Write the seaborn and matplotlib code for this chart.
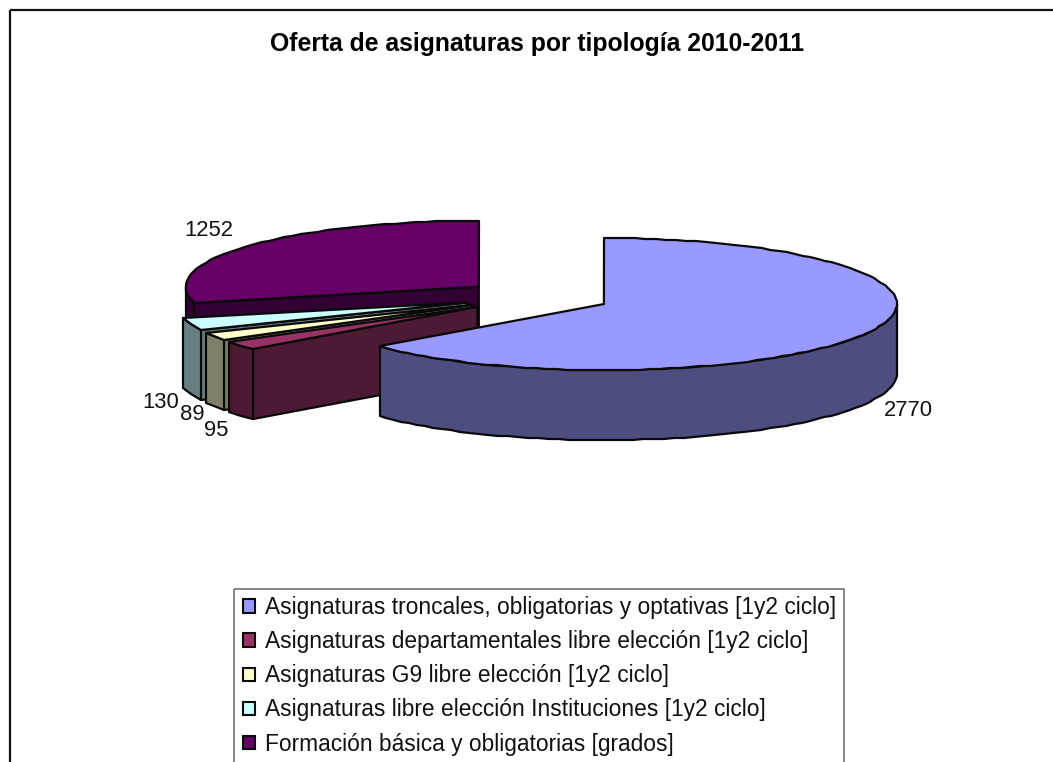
import numpy as np
import matplotlib
matplotlib.use("Agg")
import matplotlib.pyplot as plt
from matplotlib.patches import Patch, Rectangle
import seaborn as sns

# datos del grafico
tipologias = [
    "Asignaturas troncales, obligatorias y optativas [1y2 ciclo]",
    "Asignaturas departamentales libre elección [1y2 ciclo]",
    "Asignaturas G9 libre elección [1y2 ciclo]",
    "Asignaturas libre elección Instituciones [1y2 ciclo]",
    "Formación básica y obligatorias [grados]",
]
valores = [2770, 95, 89, 130, 1252]
colores = ["#9999FF", "#993366", "#FFFFCC", "#CCFFFF", "#660066"]
titulo = "Oferta de asignaturas por tipología 2010-2011"

# geometria del pastel en pixeles
CX, CY = 537, 297
RX, RY = 293, 66
ALTO = 70
EXPLOTA = 0.252
LINEA = "#0a0a0a"
# desplazamiento de cada etiqueta respecto al borde de su sector
OFFSETS = [(39.5, 78), (-25, 84), (-22, 78), (-30, 78), (-39, -15)]

sns.set_theme(style="white")
plt.rcParams["font.family"] = ["Liberation Sans", "DejaVu Sans"]
paleta = sns.color_palette(colores)

fig = plt.figure(figsize=(10.53, 7.62), dpi=100)
ax = fig.add_axes([0, 0, 1, 1])
ax.set_xlim(0, 1053)
ax.set_ylim(762, 0)
ax.axis("off")


def borde(cx, cy, grados):
    t = np.radians(grados)
    # redondeo a pixel para el borde quebrado del original
    return np.round(cx + RX * np.sin(t)), np.round(cy - RY * np.cos(t))


def cara(xs, ys, color, z):
    ax.fill(xs, ys, facecolor=color, edgecolor=LINEA, linewidth=1.6, joinstyle="round", zorder=z)


angulos = np.concatenate([[0], np.cumsum(valores) / np.sum(valores) * 360])
# de atras hacia delante: formacion, instituciones, G9, departamentales, troncales
orden = [4, 3, 2, 1, 0]
for z, i in enumerate(orden):
    a0, a1 = angulos[i], angulos[i + 1]
    medio = (a0 + a1) / 2
    t = np.radians(medio)
    cx = CX + EXPLOTA * RX * np.sin(t)
    cy = CY - EXPLOTA * RY * np.cos(t)
    oscuro = tuple(c * 0.5 for c in paleta[i])

    # cara de corte visible
    if np.sin(np.radians(a0)) < -1e-6:
        x0, y0 = borde(cx, cy, a0)
        cara([cx, x0, x0, cx], [cy, y0, y0 + ALTO, cy + ALTO], oscuro, z * 10)
    if np.sin(np.radians(a1)) > 1e-6:
        x1, y1 = borde(cx, cy, a1)
        cara([cx, x1, x1, cx], [cy, y1, y1 + ALTO, cy + ALTO], oscuro, z * 10)

    # lateral exterior, solo la mitad delantera
    ini, fin = max(a0, 90), min(a1, 270)
    if fin > ini:
        arco = np.linspace(ini, fin, max(3, int((fin - ini) / 2)))
        xs, ys = borde(cx, cy, arco)
        cara(np.r_[xs, xs[::-1]], np.r_[ys, ys[::-1] + ALTO], oscuro, z * 10 + 1)

    # cara superior
    arco = np.linspace(a0, a1, max(3, int((a1 - a0) / 2)))
    xs, ys = borde(cx, cy, arco)
    cara(np.r_[cx, xs], np.r_[cy, ys], paleta[i], z * 10 + 2)

    # etiqueta del valor
    xe, ye = borde(cx, cy, medio)
    ax.text(xe + OFFSETS[i][0], ye + OFFSETS[i][1], str(valores[i]), fontsize=15.8,
            color="#111111", ha="center", va="center", zorder=100)

ax.text(537.5, 43.5, titulo, fontsize=17.8, fontweight="bold", color="black",
        ha="center", va="center")

# marco exterior y marco de la leyenda, cortados por abajo igual que el original
ax.add_patch(Rectangle((10, 10), 1100, 800, fill=False, edgecolor="#111111", linewidth=1.6))
ax.add_patch(Rectangle((234, 589), 610, 220, fill=False, edgecolor="#666666", linewidth=1.1))

handles = [Patch(facecolor=c, edgecolor=LINEA, linewidth=1.5) for c in paleta]
ax.legend(handles, tipologias, loc="upper left", bbox_to_anchor=(243, 596),
          bbox_transform=ax.transData, frameon=False, fontsize=16.4,
          handlelength=0.52, handleheight=0.52, handletextpad=0.44,
          labelspacing=0.49, borderpad=0, borderaxespad=0, labelcolor="#111111")

fig.savefig("out.png", dpi=100)
